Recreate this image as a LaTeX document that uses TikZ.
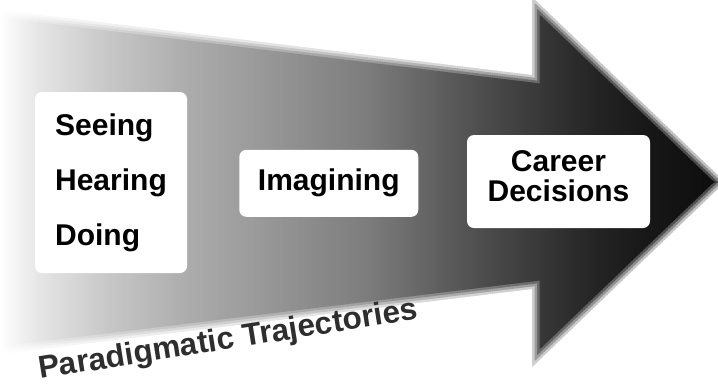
\documentclass[tikz,border=0pt]{standalone}
\usepackage{fontspec}
\setmainfont{Liberation Sans}
\usetikzlibrary{calc}
\definecolor{labelgray}{HTML}{2E2E2E}
\tikzset{
	stagebox/.style={fill=white, rounded corners=7pt, inner sep=0pt, align=center,
		font=\bfseries\fontsize{30}{30}\selectfont},
}
% upper edge of the arrow at x=#1, grown by #2 (lower edge is 364 minus it)
\def\trajtop#1#2#3{\pgfmathparse{min(182, (#3<540-#2) ? (17.5+0.122222*#1-#2) : (15+(#1-540)*0.95977-1.39*#2))}}

\begin{document}
\begin{tikzpicture}[x=1pt, y=-1pt]
		%%%%% START %%%%%
		\fill[white] (0, 0) rectangle (718, 384);
		\useasboundingbox (0, 0) rectangle (718, 384);
		
		% arrow in thin strips, soft rim from lighter and wider passes
		\foreach \e/\f in {7.5/0.25, 5/0.5, 2.5/0.75, 0/1}{
			\foreach \xa/\ka/\xb/\kb in {0/0/40/10, 40/10/110/22, 110/22/192.5/33, 192.5/33/367.5/51, 367.5/51/460/66, 460/66/505/73, 505/73/597.5/86, 597.5/86/650/91, 650/91/720/95}{
				\pgfmathtruncatemacro\n{round((\xb-\xa)/2.5)-1}
				\foreach \i in {0,...,\n}{
					\pgfmathsetmacro\xl{\xa+2.5*\i}
					\pgfmathsetmacro\xr{\xl+2.5}
					\pgfmathsetmacro\k{\f*(\ka+(\kb-\ka)*(\xl+1.25-\xa)/(\xb-\xa))}
					\trajtop{\xl}{\e}{\xl}\let\tl\pgfmathresult
					\trajtop{\xr}{\e}{\xl}\let\tr\pgfmathresult
					\fill[black!\k] (\xl-0.4, \tl) -- (\xr+0.4, \tr) -- (\xr+0.4, 364-\tr) -- (\xl-0.4, 364-\tl) -- cycle;
				}
			}
		}
		
		\node[stagebox, align=left, minimum width=152pt, minimum height=181pt,
			font=\bfseries\fontsize{30}{55}\selectfont] (senses) at (111, 182.5) {Seeing\\Hearing\\Doing};
		\node[stagebox, minimum width=179pt, minimum height=67pt] (imagine) at (328.8, 183.3) {Imagining};
		\node[stagebox, minimum width=183pt, minimum height=93pt, text depth=11pt] (career) at (558.5, 181.5) {Career\\Decisions};
		
		\node[anchor=base west, rotate=9, inner sep=0pt, text=labelgray,
			font=\bfseries\fontsize{31.5}{31.5}\selectfont] (trajlabel) at (40, 379) {Paradigmatic Trajectories};
		
		%%%%% END %%%%%
	\end{tikzpicture}
\end{document}
